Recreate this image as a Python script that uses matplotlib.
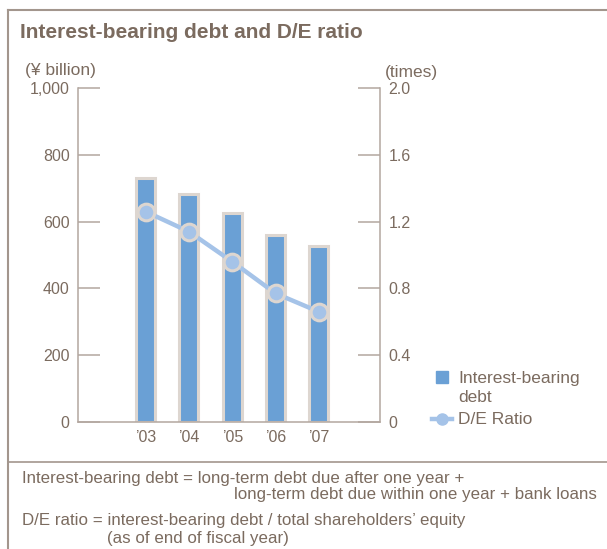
import matplotlib.pyplot as plt
from matplotlib.lines import Line2D

plt.rcParams['font.family'] = ['Liberation Sans', 'DejaVu Sans']

# fiscal years and values
years = ['\u201903', '\u201904', '\u201905', '\u201906', '\u201907']
debt = [730, 682, 625, 560, 527]          # interest-bearing debt, ¥ billion
de_ratio = [1.26, 1.14, 0.96, 0.77, 0.66]  # D/E ratio, times
left_ticks = [0, 200, 400, 600, 800, 1000]
left_labels = ['0', '200', '400', '600', '800', '1,000']
right_ticks = [0, 0.4, 0.8, 1.2, 1.6, 2.0]
right_labels = ['0', '0.4', '0.8', '1.2', '1.6', '2.0']

W, H = 607, 549
text_col = '#7b6b5f'
axis_col = '#b3a79f'
frame_col = '#a3968d'
bar_col = '#6aa0d5'
bar_edge = '#ddd6d0'
line_col = '#a5c3e8'

fig = plt.figure(figsize=(W / 100, H / 100), dpi=100)


def px(x, y):
    return x / W, 1 - y / H


# outer frame
fig.add_artist(Line2D([8 / W, 8 / W], [0, 1 - 10 / H], color=frame_col, lw=1.5))
fig.add_artist(Line2D([8 / W, 1], [1 - 10 / H, 1 - 10 / H], color=frame_col, lw=1.5))
fig.add_artist(Line2D([8 / W, 1], [1 - 462 / H, 1 - 462 / H], color=frame_col, lw=1.2))

fig.text(*px(20, 33), 'Interest-bearing debt and D/E ratio', fontsize=15,
         fontweight='bold', color=text_col, va='center', ha='left')

x0, x1, y0, y1 = 78, 380, 88, 422
ax = fig.add_axes([x0 / W, 1 - y1 / H, (x1 - x0) / W, (y1 - y0) / H])
ax.patch.set_alpha(0)
pos = list(range(len(years)))
ax.bar(pos, debt, width=0.44, color=bar_col, edgecolor=bar_edge, linewidth=2.2, zorder=2)
ax.set_xlim(-1.56, 5.41)
ax.set_ylim(0, 1000)
ax.set_xticks(pos)
ax.set_xticklabels(years)
ax.set_yticks(left_ticks)
ax.set_yticklabels(left_labels)
ax.tick_params(axis='x', length=0, pad=6, labelsize=11.5, labelcolor=text_col)
ax.tick_params(axis='y', direction='in', length=16, width=1.1, color=axis_col,
               pad=6, labelsize=11.5, labelcolor=text_col)
ax.spines['top'].set_visible(False)
ax.spines['right'].set_visible(False)
for s in ('left', 'bottom'):
    ax.spines[s].set_color(axis_col)
    ax.spines[s].set_linewidth(1.1)

ax2 = ax.twinx()
ax2.plot(pos, de_ratio, color=line_col, lw=3.2, marker='o', markersize=12,
         markerfacecolor=line_col, markeredgecolor=bar_edge, markeredgewidth=2.2, zorder=3)
ax2.set_ylim(0, 2.0)
ax2.set_yticks(right_ticks)
ax2.set_yticklabels(right_labels)
ax2.tick_params(axis='y', direction='in', length=16, width=1.1, color=axis_col,
                pad=6, labelsize=11.5, labelcolor=text_col)
for s in ('top', 'left', 'bottom'):
    ax2.spines[s].set_visible(False)
ax2.spines['right'].set_color(axis_col)
ax2.spines['right'].set_linewidth(1.1)

fig.text(*px(25, 70), '(¥ billion)', fontsize=12.5, color=text_col, va='center')
fig.text(*px(385, 72), '(times)', fontsize=12.5, color=text_col, va='center')

# legend drawn by hand
fig.add_artist(Line2D([442 / W], [1 - 377 / H], marker='s', markersize=9, color=bar_col, lw=0))
fig.text(*px(458, 378), 'Interest-bearing', fontsize=12.5, color=text_col, va='center')
fig.text(*px(458, 397), 'debt', fontsize=12.5, color=text_col, va='center')
fig.add_artist(Line2D([432 / W, 452 / W], [1 - 419 / H, 1 - 419 / H], color=line_col, lw=3.2))
fig.add_artist(Line2D([442 / W], [1 - 419 / H], marker='o', markersize=8, color=line_col, lw=0))
fig.text(*px(458, 420), 'D/E Ratio', fontsize=12.5, color=text_col, va='center')

# footnotes
fn = 12.2
fig.text(*px(22, 478), 'Interest-bearing debt = long-term debt due after one year +',
         fontsize=fn, color=text_col, va='center')
fig.text(*px(597, 495), 'long-term debt due within one year + bank loans',
         fontsize=fn, color=text_col, va='center', ha='right')
fig.text(*px(22, 521), 'D/E ratio = interest-bearing debt / total shareholders\u2019 equity',
         fontsize=fn, color=text_col, va='center')
fig.text(*px(107, 539), '(as of end of fiscal year)', fontsize=fn, color=text_col, va='center')

fig.savefig('out.png', dpi=100)
